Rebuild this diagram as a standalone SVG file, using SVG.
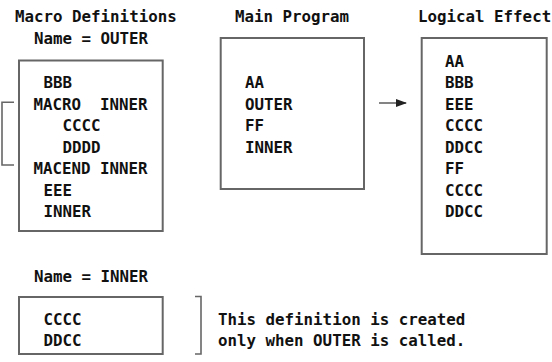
<svg xmlns="http://www.w3.org/2000/svg" width="552" height="362" viewBox="0 0 552 362">
<defs>
<style>
text{font-family:"DejaVu Sans Mono","Liberation Mono",monospace;font-weight:bold;font-size:15.8px;fill:#111;white-space:pre}
.box{fill:#fff;stroke:#666;stroke-width:2}
.ln{fill:none;stroke:#666;stroke-width:1.6}
</style>
<marker id="ah" markerWidth="11" markerHeight="8" refX="10" refY="4" orient="auto" markerUnits="userSpaceOnUse">
<path d="M0,0 L11,4 L0,8 Z" fill="#222"/>
</marker>
</defs>
<rect width="552" height="362" fill="#fff"/>
<g id="titles">
<text x="15" y="22">Macro Definitions</text>
<text x="34" y="43.5">Name = OUTER</text>
<text x="235" y="22">Main Program</text>
<text x="418" y="22">Logical Effect</text>
<text x="34" y="281.5">Name = INNER</text>
</g>
<g id="outer">
<rect class="box" x="19" y="60.5" width="143.7" height="170.5"/>
<text x="43.5" y="88">BBB</text>
<text x="33.5" y="109.5">MACRO  INNER</text>
<text x="62.5" y="131">CCCC</text>
<text x="62.5" y="152.5">DDDD</text>
<text x="33.5" y="174">MACEND INNER</text>
<text x="43.5" y="195.5">EEE</text>
<text x="43.5" y="217">INNER</text>
</g>
<g id="main">
<rect class="box" x="220.7" y="38" width="143.3" height="151"/>
<text x="245" y="88">AA</text>
<text x="245" y="109.5">OUTER</text>
<text x="245" y="131">FF</text>
<text x="245" y="152.5">INNER</text>
</g>
<g id="logical">
<rect class="box" x="421.7" y="38" width="125" height="216"/>
<text x="445" y="66.5">AA</text>
<text x="445" y="88">BBB</text>
<text x="445" y="109.5">EEE</text>
<text x="445" y="131">CCCC</text>
<text x="445" y="152.5">DDCC</text>
<text x="445" y="174">FF</text>
<text x="445" y="195.5">CCCC</text>
<text x="445" y="217">DDCC</text>
</g>
<g id="inner">
<rect class="box" x="19" y="297" width="143.7" height="57"/>
<text x="43.5" y="324.5">CCCC</text>
<text x="43.5" y="346">DDCC</text>
</g>
<g id="note">
<text x="218" y="324.5">This definition is created</text>
<text x="218" y="346">only when OUTER is called.</text>
</g>
<g id="connectors">
<path class="ln" d="M14,102.3 H2 V165 H14"/>
<path class="ln" d="M195,296.5 H201 V354 H195"/>
<line class="ln" x1="379" y1="103" x2="406" y2="103" marker-end="url(#ah)"/>
</g>
</svg>
